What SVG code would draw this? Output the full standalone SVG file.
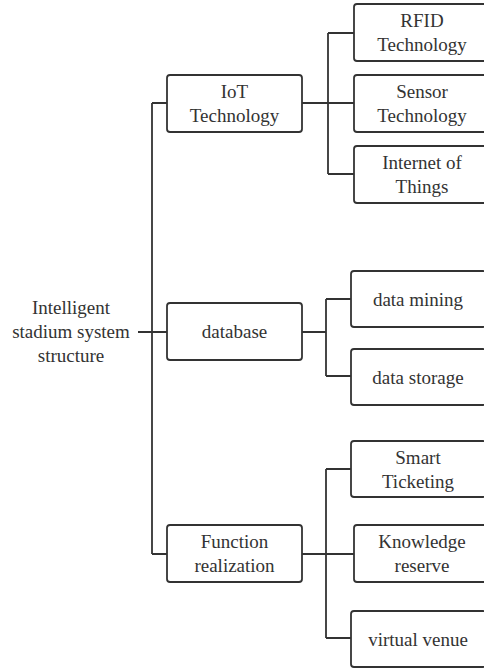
<svg xmlns="http://www.w3.org/2000/svg" width="484" height="668" viewBox="0 0 484 668">
<style>
.box{fill:#fff;stroke:#333;stroke-width:1.8}
.t{font-family:'Liberation Serif','Times New Roman','DejaVu Serif',serif;font-size:19px;fill:#333;text-anchor:middle}
.c{fill:none;stroke:#333;stroke-width:1.8}
</style>
<rect width="484" height="668" fill="#fff"/>
<g id="connectors">
<path class="c" d="M138,332 H167 M152,103 V554 M152,103 H167 M152,554 H167"/>
<path class="c" d="M302,103 H354 M328,33 V174 M328,33 H354 M328,174 H354"/>
<path class="c" d="M302,332 H326 M326,299 V376 M326,299 H351 M326,376 H351"/>
<path class="c" d="M302,554 H354 M326,469 V638 M326,469 H351 M326,638 H351"/>
</g>
<g id="root" font-family="Liberation Serif"><text class="t" x="71" y="314">Intelligent</text><text class="t" x="71" y="338">stadium system</text><text class="t" x="71" y="362">structure</text></g>
<g id="iot"><rect class="box" x="167" y="75" width="135" height="57" rx="3"/><text class="t" x="234.5" y="98">IoT</text><text class="t" x="234.5" y="122">Technology</text></g>
<g id="database"><rect class="box" x="167" y="303" width="135" height="57" rx="3"/><text class="t" x="234.5" y="338">database</text></g>
<g id="function"><rect class="box" x="167" y="525" width="135" height="57" rx="3"/><text class="t" x="234.5" y="548">Function</text><text class="t" x="234.5" y="572">realization</text></g>
<g id="rfid"><rect class="box" x="354" y="4" width="135" height="57" rx="3"/><text class="t" x="422" y="27">RFID</text><text class="t" x="422" y="51">Technology</text></g>
<g id="sensor"><rect class="box" x="354" y="75" width="135" height="57" rx="3"/><text class="t" x="422" y="98">Sensor</text><text class="t" x="422" y="122">Technology</text></g>
<g id="internet"><rect class="box" x="354" y="146" width="135" height="57" rx="3"/><text class="t" x="422" y="169">Internet of</text><text class="t" x="422" y="193">Things</text></g>
<g id="mining"><rect class="box" x="351" y="271" width="135" height="56" rx="3"/><text class="t" x="418" y="306">data mining</text></g>
<g id="storage"><rect class="box" x="351" y="349" width="135" height="56" rx="3"/><text class="t" x="418" y="384">data storage</text></g>
<g id="ticketing"><rect class="box" x="351" y="441" width="135" height="56" rx="3"/><text class="t" x="418" y="464">Smart</text><text class="t" x="418" y="488">Ticketing</text></g>
<g id="knowledge"><rect class="box" x="354" y="525" width="135" height="57" rx="3"/><text class="t" x="422" y="548">Knowledge</text><text class="t" x="422" y="572">reserve</text></g>
<g id="venue"><rect class="box" x="351" y="611" width="135" height="56" rx="3"/><text class="t" x="418" y="646">virtual venue</text></g>
</svg>
